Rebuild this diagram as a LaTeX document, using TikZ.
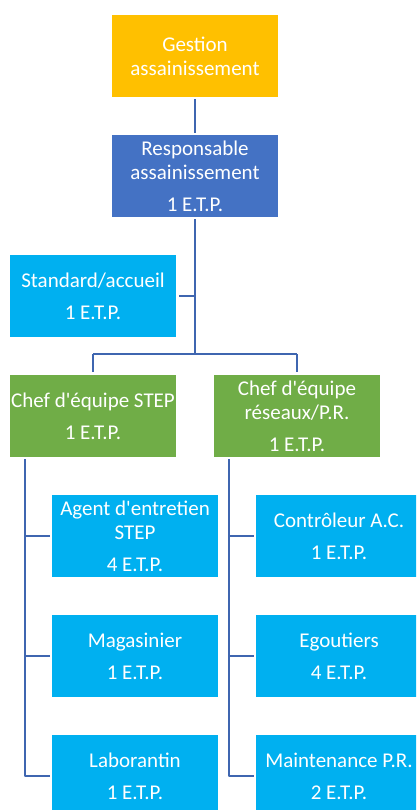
\documentclass[tikz,border=0pt]{standalone}
\usepackage{fontspec}
\setmainfont{Carlito}
\definecolor{jaune}{HTML}{FFC000}
\definecolor{bleu}{HTML}{4472C4}
\definecolor{cyan}{HTML}{00B0F0}
\definecolor{vert}{HTML}{70AD47}
\definecolor{trait}{HTML}{3F66B0}
\begin{document}
\begin{tikzpicture}[x=1pt, y=-1pt, font=\fontsize{21}{24}\selectfont, line join=round,
    boite/.style={minimum width=166pt, minimum height=82pt, inner sep=0pt, align=center, text=white},
    lien/.style={draw=trait, line width=2.3pt}]
    \def\q{\textquotesingle} % apostrophe droite
    \useasboundingbox (0,0) rectangle (416,810);
    \clip (0,0) rectangle (416,810);
    % Direction
    \node[boite, fill=jaune] (gestion) at (195,56) {Gestion\\assainissement};
    \node[boite, fill=bleu] (resp) at (195,176) {Responsable\\assainissement\\[8pt]1 E.T.P.};
    \node[boite, fill=cyan] (accueil) at (93,296) {Standard/accueil\\[8pt]1 E.T.P.};
    % Chefs d'equipe
    \node[boite, fill=vert] (chefstep) at (93,416) {Chef d\q{}équipe STEP\\[8pt]1 E.T.P.};
    \node[boite, fill=vert] (chefres) at (297,416) {Chef d\q{}équipe\\réseaux/P.R.\\[8pt]1 E.T.P.};
    % Equipe STEP
    \node[boite, fill=cyan] (agent) at (135,536) {Agent d\q{}entretien\\STEP\\[8pt]4 E.T.P.};
    \node[boite, fill=cyan] (magas) at (135,656) {Magasinier\\[8pt]1 E.T.P.};
    \node[boite, fill=cyan] (labo) at (135,776) {Laborantin\\[8pt]1 E.T.P.};
    % Equipe reseaux
    \node[boite, fill=cyan] (ctrl) at (339,536) {Contrôleur A.C.\\[8pt]1 E.T.P.};
    \node[boite, fill=cyan] (egout) at (339,656) {Egoutiers\\[8pt]4 E.T.P.};
    \node[boite, fill=cyan] (maint) at (339,776) {Maintenance P.R.\\[8pt]2 E.T.P.};
    % Liens
    \draw[lien, shorten <=2pt, shorten >=2pt] (gestion) -- (resp);
    \draw[lien, shorten <=2pt] (resp.south) -- ++(0,137) coordinate (barre);
    \draw[lien, shorten >=3pt] (chefstep.north |- barre) -- (chefstep.north);
    \draw[lien, shorten >=3pt] (chefres.north |- barre) -- (chefres.north);
    \draw[lien] (chefstep.north |- barre) -- (chefres.north |- barre);
    \draw[lien, shorten <=3pt] (accueil.east) -- (accueil.east -| resp.south);
    \coordinate (gauche) at ([xshift=15pt]chefstep.south west);
    \coordinate (droite) at ([xshift=15pt]chefres.south west);
    \draw[lien, shorten <=2pt] (gauche) |- ([xshift=-2pt]labo.west);
    \draw[lien, shorten <=2pt] (droite) |- ([xshift=-2pt]maint.west);
    \foreach \n in {agent,magas}
        \draw[lien] (\n.west -| gauche) -- ([xshift=-2pt]\n.west);
    \foreach \n in {ctrl,egout}
        \draw[lien] (\n.west -| droite) -- ([xshift=-2pt]\n.west);
\end{tikzpicture}
\end{document}
